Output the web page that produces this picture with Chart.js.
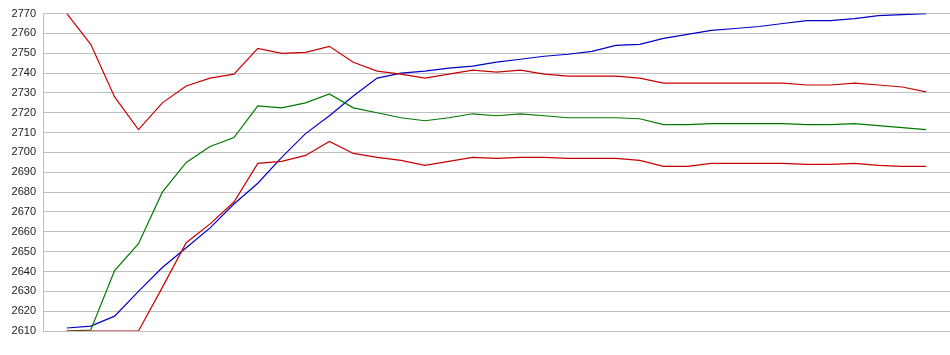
<!DOCTYPE html>
<html>
<head>
<meta charset="utf-8">
<script src="https://cdn.jsdelivr.net/npm/chart.js@4"></script>
<style>
  html, body { margin: 0; padding: 0; background: #fff; }
  #chart { display: block; }
</style>
</head>
<body>
<canvas id="chart" width="950" height="355"></canvas>
<script>
// y axis range (tick labels every 10)
const yMin = 2610;
const yMax = 2770;
const yStep = 10;

// values, one per step (37 steps)
const redUpper = [2770, 2754.5, 2728, 2711.5, 2725, 2733.5, 2737.5, 2739.5, 2752.5, 2750,
  2750.5, 2753.5, 2745.5, 2741, 2739.5, 2737.5, 2739.5, 2741.5, 2740.5, 2741.5,
  2739.5, 2738.5, 2738.5, 2738.5, 2737.5, 2735, 2735, 2735, 2735, 2735,
  2735, 2734, 2734, 2735, 2734, 2733, 2730.5];

const greenLine = [2610, 2610.5, 2640.5, 2654, 2680, 2695, 2703, 2707.5, 2723.5, 2722.5,
  2725, 2729.5, 2722.5, 2720, 2717.5, 2716, 2717.5, 2719.5, 2718.5, 2719.5,
  2718.5, 2717.5, 2717.5, 2717.5, 2717, 2714, 2714, 2714.5, 2714.5, 2714.5,
  2714.5, 2714, 2714, 2714.5, 2713.5, 2712.5, 2711.5];

const redLower = [2610, 2610, 2610, 2610, 2632, 2654.5, 2664, 2675, 2694.5, 2695.5,
  2698.5, 2705.5, 2699.5, 2697.5, 2696, 2693.5, 2695.5, 2697.5, 2697, 2697.5,
  2697.5, 2697, 2697, 2697, 2696, 2693, 2693, 2694.5, 2694.5, 2694.5,
  2694.5, 2694, 2694, 2694.5, 2693.5, 2693, 2693];

const blueLine = [2611.5, 2612.5, 2617.5, 2630, 2642, 2652, 2662, 2674, 2684.5, 2697.5,
  2709.5, 2718.5, 2728.5, 2737.5, 2740, 2741, 2742.5, 2743.5, 2745.5, 2747,
  2748.5, 2749.5, 2751, 2754, 2754.5, 2757.5, 2759.5, 2761.5, 2762.5, 2763.5,
  2765, 2766.5, 2766.5, 2767.5, 2769, 2769.5, 2770];

// steps sit at 1..37 on an axis running 0..38
const toPoints = arr => arr.map((v, i) => ({ x: i + 1, y: v }));

function series(data, color) {
  return {
    data: toPoints(data),
    borderColor: color,
    backgroundColor: color,
    borderWidth: 1.2,
    pointRadius: 0,
    tension: 0,
    fill: false
  };
}

const ctx = document.getElementById('chart').getContext('2d');
new Chart(ctx, {
  type: 'line',
  data: {
    datasets: [
      series(redUpper, '#c80000'),
      series(redLower, '#c80000'),
      series(greenLine, '#007a00'),
      series(blueLine, '#0000c8')
    ]
  },
  options: {
    responsive: false,
    animation: false,
    layout: { padding: { top: 10, bottom: 24, left: 0, right: 0 } },
    plugins: {
      legend: { display: false },
      tooltip: { enabled: false }
    },
    scales: {
      x: {
        type: 'linear',
        min: 0,
        max: 38,
        display: false
      },
      y: {
        min: yMin,
        max: yMax,
        afterFit: scale => { scale.width = 43; },
        ticks: {
          stepSize: yStep,
          padding: 7,
          color: '#222',
          font: { family: 'Liberation Sans', size: 11 },
          callback: v => String(v)
        },
        grid: {
          color: '#c0c0c0',
          drawTicks: false
        },
        border: { display: true, color: '#c0c0c0' }
      }
    }
  }
});
</script>
</body>
</html>
